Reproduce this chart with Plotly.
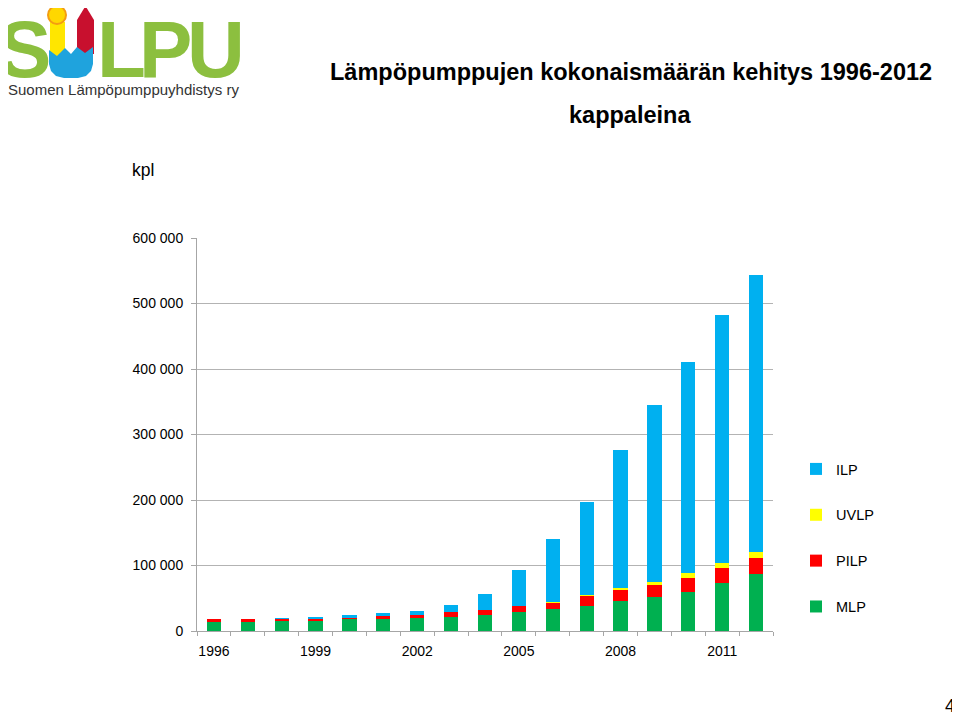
import plotly.graph_objects as go

years = list(range(1996, 2013))
mlp = [14000, 14000, 15000, 15800, 17600, 18600, 19500, 22100, 24900, 28400, 33100, 38200, 45300, 51900, 59500, 73900, 87000]
pilp = [4600, 4000, 4200, 4000, 3500, 4600, 5600, 6600, 7600, 9200, 10200, 15300, 17300, 18300, 22000, 22300, 24400]
uvlp = [0, 0, 0, 0, 0, 0, 0, 0, 0, 0, 1500, 2000, 3500, 5000, 6500, 8000, 9000]
ilp = [0, 0, 500, 2000, 3000, 4000, 5600, 10700, 24000, 56000, 96000, 141500, 211000, 270000, 322000, 378000, 423000]

ytick_vals = [0, 100000, 200000, 300000, 400000, 500000, 600000]
ytick_text = ["0", "100 000", "200 000", "300 000", "400 000", "500 000", "600 000"]

series = [("MLP", mlp, "#00b050", 4), ("PILP", pilp, "#ff0000", 3),
          ("UVLP", uvlp, "#ffff00", 2), ("ILP", ilp, "#00b0f0", 1)]

# page offset (body margin) and plot area in page pixels
OFF = 8
L, R, T, B = 197, 773, 238, 631
W, H = 960 - OFF, 725 - 2 * OFF


def px(x):
    return (x - L) / (R - L)


def py(y):
    return (B - y) / (B - T)


fig = go.Figure()
for name, vals, col, rank in series:
    fig.add_trace(go.Bar(x=years, y=vals, name=name, marker_color=col,
                         marker_line_width=0, width=0.42, legendgroup=name,
                         legendrank=rank))

font = "Liberation Sans, Arial, sans-serif"

fig.update_layout(
    width=W, height=H,
    margin=dict(l=L - OFF, r=W - (R - OFF), t=T - OFF, b=H - (B - OFF), pad=0),
    paper_bgcolor="white", plot_bgcolor="white",
    barmode="stack",
    showlegend=True,
    legend=dict(x=px(796), y=py(453), xanchor="left", yanchor="top",
                traceorder="grouped", tracegroupgap=24,
                font=dict(family=font, size=14.5, color="#000"),
                itemwidth=30, bgcolor="rgba(0,0,0,0)"),
    font=dict(family=font, size=14, color="#000"),
    xaxis=dict(range=[1995.5, 2012.5], tick0=1996, dtick=3, ticks="",
               ticklen=0, ticklabelstandoff=7, showgrid=False,
               showline=True, linecolor="#a6a6a6", linewidth=1,
               tickfont=dict(size=14),
               minor=dict(tick0=1995.5, dtick=1, ticks="outside", ticklen=4,
                          tickcolor="#a6a6a6", showgrid=False),
               zeroline=False),
    yaxis=dict(range=[0, 600000], tickvals=ytick_vals, ticktext=ytick_text,
               ticks="outside", ticklen=5, tickcolor="#a6a6a6",
               ticklabelstandoff=5,
               showgrid=True, gridcolor="#b3b3b3", gridwidth=1,
               showline=True, linecolor="#a6a6a6", linewidth=1,
               zeroline=False, tickfont=dict(size=14)),
)

anns = []


def ann(text, x, y, size, color="#000", bold=False, fam=font, xanchor="center"):
    anns.append(dict(text=("<b>%s</b>" % text) if bold else text,
                     x=px(x), y=py(y), xref="paper", yref="paper",
                     showarrow=False, xanchor=xanchor, yanchor="middle",
                     font=dict(family=fam, size=size, color=color)))


ann("Lämpöpumppujen kokonaismäärän kehitys 1996-2012", 631, 72, 23.5, bold=True)
ann("kappaleina", 630, 115, 23.5, bold=True)
ann("kpl", 130, 170, 17.5, xanchor="left")
ann("4", 950, 706, 18)

# logo text
green = "#8cbf3f"
narrow = "Liberation Sans Narrow, Arial Narrow, Liberation Sans, sans-serif"
for letter, cx in [("S", 24), ("L", 121), ("P", 165), ("U", 216)]:
    ann(letter, cx, 49, 80, color=green, bold=True, fam=narrow)
ann("Suomen Lämpöpumppuyhdistys ry", 123, 89, 15, color="#333333")

fig.update_layout(annotations=anns)


def path(points):
    s = "M " + " L ".join("%f,%f" % (px(a), py(b)) for a, b in points) + " Z"
    return s


shapes = []
# yellow stem
shapes.append(dict(type="path", xref="paper", yref="paper",
                   path=path([(50, 22), (65, 22), (65, 56), (57, 62), (50, 56)]),
                   fillcolor="#ffe600", line=dict(width=0)))
# red arrow
shapes.append(dict(type="path", xref="paper", yref="paper",
                   path=path([(77, 54), (77, 20), (85.5, 6), (94, 20), (94, 54)]),
                   fillcolor="#c8102e", line=dict(width=0)))
# blue bottom of U
ubot = [(49, 50), (57, 56), (65, 48), (71, 54), (77, 47), (85, 53), (93, 47),
        (93, 64), (91, 71), (86, 76), (78, 78), (64, 78), (56, 76), (51, 71), (49, 64)]
shapes.append(dict(type="path", xref="paper", yref="paper", path=path(ubot),
                   fillcolor="#1fa3dd", line=dict(width=0)))
# sun
shapes.append(dict(type="circle", xref="paper", yref="paper",
                   x0=px(48), x1=px(66), y0=py(24), y1=py(6),
                   fillcolor="#ffd700", line=dict(color="#f39c12", width=2)))
fig.update_layout(shapes=shapes)

fig.write_html("out.html")
